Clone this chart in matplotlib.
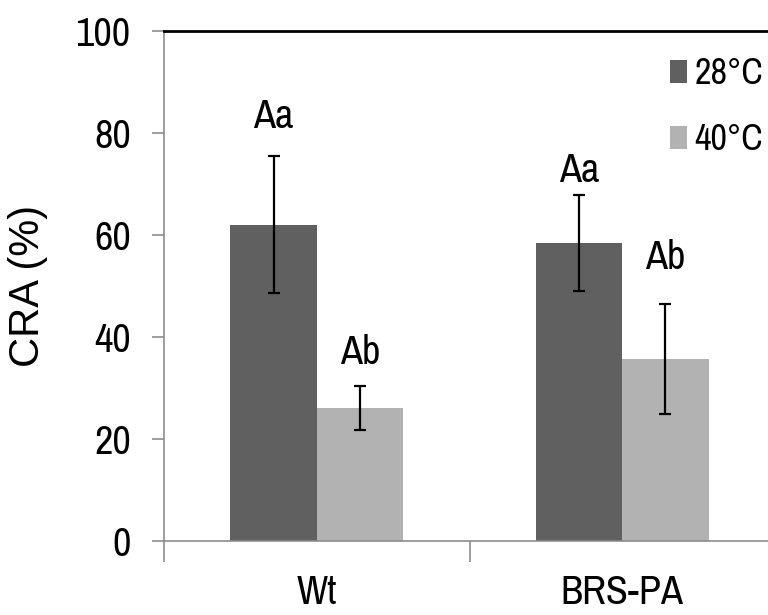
import matplotlib
matplotlib.use("Agg")
import matplotlib.pyplot as plt
from matplotlib import font_manager as fm
from matplotlib.ticker import FixedLocator, NullFormatter, FixedFormatter

names = {f.name for f in fm.fontManager.ttflist}
narrow = next((n for n in ['Archivo Narrow', 'Roboto Condensed', 'Liberation Sans Narrow', 'Liberation Sans']
               if n in names), 'DejaVu Sans')
fam = [narrow, 'DejaVu Sans']

categories = ["Wt", "BRS-PA"]
series_names = ["28°C", "40°C"]
vals_28 = [62.0, 58.4]
vals_40 = [26.1, 35.7]
err_28 = [13.4, 9.4]
err_40 = [4.3, 10.7]
letters_28 = ["Aa", "Aa"]
letters_40 = ["Ab", "Ab"]
y_ticks = [0, 20, 40, 60, 80, 100]

c28 = "#606060"
c40 = "#b2b2b2"
gray = "#8c8c8c"

fig = plt.figure(figsize=(7.68, 6.15), dpi=100)
ax = fig.add_axes([164/768, (615-541)/615, (775-164)/768, (541-31)/615])

x = list(range(len(categories)))
w = 0.283
x28 = [xi - w/2 for xi in x]
x40 = [xi + w/2 for xi in x]
ax.bar(x28, vals_28, width=w, color=c28, label=series_names[0], zorder=2)
ax.bar(x40, vals_40, width=w, color=c40, label=series_names[1], zorder=2)
ax.errorbar(x28, vals_28, yerr=err_28, fmt='none', ecolor='black', elinewidth=1.6,
            capsize=4, capthick=1.6, zorder=3)
ax.errorbar(x40, vals_40, yerr=err_40, fmt='none', ecolor='black', elinewidth=1.6,
            capsize=4, capthick=1.6, zorder=3)

fs = 29
lab_off_28 = [5.5, 2.6]
lab_off_40 = [4.3, 7.0]
for i in range(len(categories)):
    ax.text(x28[i], vals_28[i] + err_28[i] + lab_off_28[i], letters_28[i], ha='center', va='baseline',
            fontsize=fs, family=fam)
    ax.text(x40[i], vals_40[i] + err_40[i] + lab_off_40[i], letters_40[i], ha='center', va='baseline',
            fontsize=fs, family=fam)

ax.set_xlim(-0.5, 1.5)
ax.set_ylim(0, 100)

ax.set_yticks(y_ticks)
ax.set_yticklabels([str(t) for t in y_ticks], fontsize=fs, family=fam)
ax.tick_params(axis='y', direction='out', length=9, width=1.2, color=gray, pad=15)

ax.xaxis.set_major_locator(FixedLocator([-0.5, 0.5, 1.5]))
ax.xaxis.set_major_formatter(NullFormatter())
ax.xaxis.set_minor_locator(FixedLocator(x))
ax.xaxis.set_minor_formatter(FixedFormatter(categories))
ax.tick_params(axis='x', which='major', direction='out', length=15, width=1.2, color=gray)
ax.tick_params(axis='x', which='minor', length=0, pad=24, labelsize=fs)
for t in ax.xaxis.get_minorticklabels():
    t.set_family(fam)

ax.spines['right'].set_visible(False)
ax.spines['left'].set_color(gray)
ax.spines['left'].set_linewidth(1.2)
ax.spines['bottom'].set_color(gray)
ax.spines['bottom'].set_linewidth(1.2)
ax.spines['top'].set_color('black')
ax.spines['top'].set_linewidth(2.0)

ax.set_ylabel("CRA (%)", fontsize=30, family='Liberation Sans', labelpad=20)

leg = ax.legend(loc='upper left', bbox_to_anchor=(670/768, 1 - 57/615), bbox_transform=fig.transFigure,
                frameon=False, prop={'family': fam, 'size': 26},
                handlelength=0.48, handleheight=0.62, handletextpad=0.2, labelspacing=0.92,
                borderpad=0, borderaxespad=0)

fig.savefig("out.png", dpi=100)
